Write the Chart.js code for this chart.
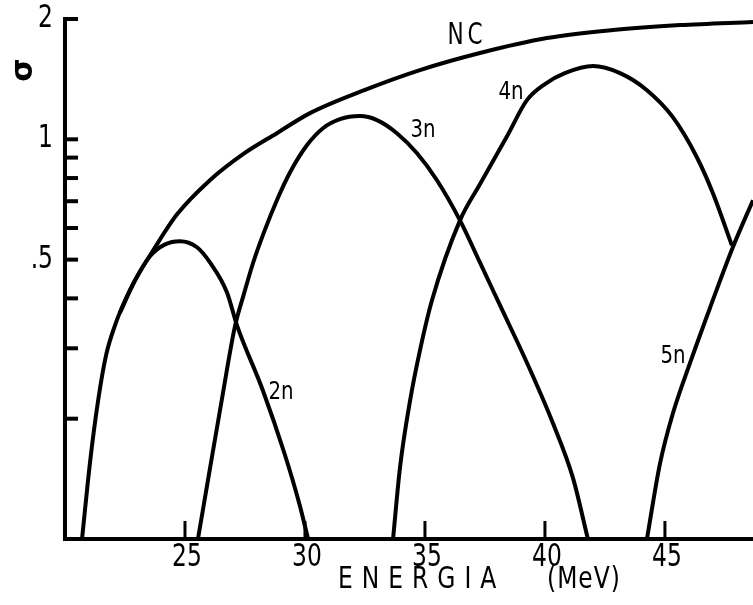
<!DOCTYPE html>
<html>
<head>
<meta charset="utf-8">
<script src="https://cdn.jsdelivr.net/npm/chart.js@4.4.1/dist/chart.umd.min.js"></script>
<style>
  html, body { margin: 0; padding: 0; background: #fff; }
  #wrap { width: 753px; height: 605px; }
</style>
</head>
<body>
<div id="wrap"><canvas id="cs" width="753" height="605"></canvas></div>
<script>
// cross sections (arbitrary units, log axis) against projectile energy in MeV
let ncEnergy = [20.71, 21.04, 21.38, 21.71, 22.08, 22.5, 22.92, 23.67, 24.67, 26.04, 27.42, 28.83, 30.21, 32.58, 34.79, 37.29, 40.08, 42.83, 45.63, 48.67];
let ncSigma  = [0.1, 0.155, 0.222, 0.288, 0.342, 0.395, 0.444, 0.527, 0.649, 0.79, 0.918, 1.036, 1.163, 1.335, 1.49, 1.644, 1.792, 1.877, 1.931, 1.966];

let n2Energy = [22.29, 22.92, 23.54, 24.17, 24.79, 25.5, 26.04, 26.75, 27.17, 28.25, 29.17, 29.79, 30.13];
let n2Sigma  = [0.368, 0.444, 0.51, 0.546, 0.556, 0.537, 0.492, 0.414, 0.342, 0.235, 0.162, 0.121, 0.1];

let n3Energy = [25.54, 26.04, 26.54, 27.08, 27.46, 27.83, 28.29, 28.83, 29.38, 30.08, 30.75, 31.46, 32.29, 33.0, 33.83, 34.67, 35.5, 36.46, 37.29, 38.13, 39.25, 40.33, 41.17, 41.79];
let n3Sigma  = [0.1, 0.15, 0.224, 0.34, 0.411, 0.489, 0.585, 0.704, 0.827, 0.966, 1.066, 1.123, 1.143, 1.117, 1.036, 0.923, 0.79, 0.627, 0.492, 0.384, 0.276, 0.195, 0.142, 0.1];

let n4Energy = [33.67, 33.96, 34.38, 34.79, 35.29, 36.46, 37.29, 38.42, 39.25, 40.0, 40.83, 42.0, 43.13, 44.25, 45.33, 46.33, 47.0, 47.79];
let n4Sigma  = [0.1, 0.151, 0.222, 0.296, 0.395, 0.627, 0.772, 1.018, 1.253, 1.375, 1.464, 1.525, 1.464, 1.327, 1.136, 0.902, 0.733, 0.543];

let n5Energy = [44.25, 44.79, 45.33, 46.04, 46.88, 47.83, 48.67];
let n5Sigma  = [0.1, 0.154, 0.206, 0.275, 0.379, 0.537, 0.704];

let xTicks = [25, 30, 35, 40, 45];
let yTicks = [0.2, 0.3, 0.4, 0.5, 0.6, 0.7, 0.8, 0.9, 1, 2];
let yLabels = { 2: '2', 1: '1', 0.5: '.5' };

let curveNames = ['NC', '2n', '3n', '4n', '5n'];
let curveLabelAt = [[467, 36], [281, 392], [423, 130], [511, 92], [673, 356]];

const FONT = '"DejaVu Sans Condensed", "DejaVu Sans", sans-serif';

function toPoints(xs, ys) {
    return xs.map((x, i) => ({ x: x, y: ys[i] }));
}

function curve(xs, ys) {
    return {
        data: toPoints(xs, ys),
        borderColor: '#000',
        borderWidth: 4,
        pointRadius: 0,
        fill: false,
        cubicInterpolationMode: 'monotone'
    };
}

// text a little taller than the font's own proportions
function tallText(ctx, text, x, y, size, sy, align, spacing) {
    ctx.save();
    ctx.translate(x, y);
    ctx.scale(1, sy);
    ctx.font = size + 'px ' + FONT;
    ctx.textAlign = align;
    ctx.textBaseline = 'middle';
    ctx.letterSpacing = (spacing || 0) + 'px';
    ctx.fillText(text, 0, 0);
    ctx.restore();
}

// inward tick marks, tick labels, curve names and axis titles
let decorations = {
    id: 'decorations',
    afterDraw(chart) {
        let ctx = chart.ctx;
        let area = chart.chartArea;
        let xs = chart.scales.x, ys = chart.scales.y;
        ctx.save();
        ctx.strokeStyle = '#000';
        ctx.fillStyle = '#000';
        ctx.lineCap = 'butt';

        ctx.lineWidth = 4;
        yTicks.forEach(v => {
            let py = ys.getPixelForValue(v);
            ctx.beginPath();
            ctx.moveTo(area.left, py);
            ctx.lineTo(area.left + 13, py);
            ctx.stroke();
            if (yLabels[v]) tallText(ctx, yLabels[v], area.left - 12, py, 26, 1.2, 'right');
        });

        ctx.lineWidth = 3;
        xTicks.forEach(v => {
            let px = xs.getPixelForValue(v);
            ctx.beginPath();
            ctx.moveTo(px, area.bottom);
            ctx.lineTo(px, area.bottom - 18);
            ctx.stroke();
            tallText(ctx, String(v), px + 2, area.bottom + 19, 26, 1.2, 'center');
        });

        curveNames.forEach((name, i) => {
            if (name === 'NC') tallText(ctx, name, curveLabelAt[i][0], curveLabelAt[i][1], 24, 1.25, 'center', 4);
            else tallText(ctx, name, curveLabelAt[i][0], curveLabelAt[i][1], 22, 1.15, 'center');
        });

        tallText(ctx, 'ENERGIA', 338, 580, 26, 1.15, 'left', 9);
        tallText(ctx, '(MeV)', 547, 580, 26, 1.15, 'left', 1);

        ctx.translate(24, 70);
        ctx.rotate(-Math.PI / 2);
        ctx.textAlign = 'center';
        ctx.textBaseline = 'middle';
        ctx.font = 'bold 30px "DejaVu Sans", sans-serif';
        ctx.fillText('σ', 0, 0);
        ctx.restore();
    }
};

new Chart(document.getElementById('cs'), {
    type: 'line',
    data: {
        datasets: [
            curve(ncEnergy, ncSigma),
            curve(n2Energy, n2Sigma),
            curve(n3Energy, n3Sigma),
            curve(n4Energy, n4Sigma),
            curve(n5Energy, n5Sigma)
        ]
    },
    options: {
        responsive: false,
        animation: false,
        layout: { padding: { top: 19, right: 0, left: 0, bottom: 0 } },
        plugins: { legend: { display: false }, tooltip: { enabled: false } },
        scales: {
            x: {
                type: 'linear',
                min: 20,
                max: 48.67,
                grid: { display: false },
                border: { display: true, color: '#000', width: 4 },
                afterBuildTicks: s => { s.ticks = xTicks.map(v => ({ value: v })); },
                afterFit: s => { s.height = 66; },
                ticks: { display: false }
            },
            y: {
                type: 'logarithmic',
                min: 0.1,
                max: 2,
                grid: { display: false },
                border: { display: true, color: '#000', width: 4 },
                afterBuildTicks: s => { s.ticks = yTicks.map(v => ({ value: v })); },
                afterFit: s => { s.width = 65; },
                ticks: { display: false }
            }
        }
    },
    plugins: [decorations]
});
</script>
</body>
</html>
